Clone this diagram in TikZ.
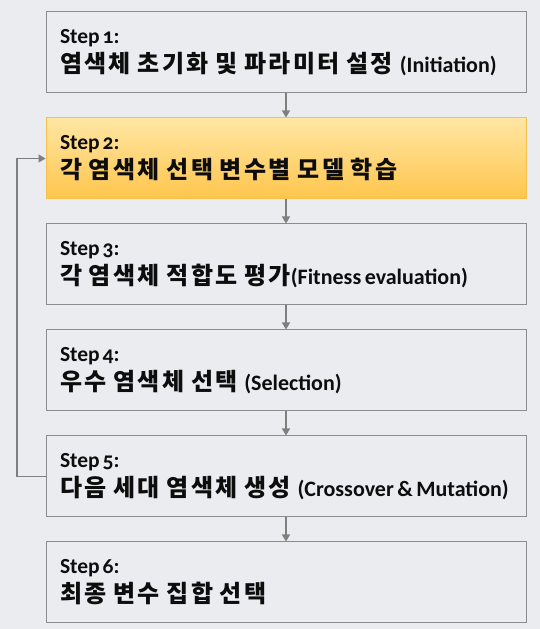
\documentclass[tikz,border=0pt]{standalone}
\usepackage{fontspec}
\newfontfamily\kofont{Noto Sans CJK KR}[LetterSpace=10,WordSpace=0.85]
\newfontfamily\enfont{Carlito}[Numbers=OldStyle,WordSpace=0.7]
\usetikzlibrary{positioning,arrows.meta}
\definecolor{bgcol}{HTML}{EBECF0}
\definecolor{boxline}{HTML}{8C8C8C}
\definecolor{flowcol}{HTML}{7F7F7F}
\definecolor{hltop}{HTML}{FFE6A4}
\definecolor{hlbot}{HTML}{FFC54C}
\definecolor{hlline}{HTML}{F3C24E}
\newcommand{\stp}[1]{{\enfont\bfseries\fontsize{21.5}{28}\selectfont Step\hspace{3pt}#1:}}
\newcommand{\eng}[1]{{\enfont\bfseries\fontsize{22}{28}\selectfont #1}}
\begin{document}
\begin{tikzpicture}[x=1pt,y=1pt,
    node distance = 24pt,
    stepbox/.style = {rectangle,draw=boxline,line width=1pt,fill=bgcol,
        minimum width=480pt,minimum height=81pt,text width=452pt,
        inner xsep=14pt,align=flush left,text=black!95,
        font=\kofont\bfseries\fontsize{24}{29}\selectfont},
    hlbox/.style = {stepbox,draw=hlline,top color=hltop,bottom color=hlbot},
    flow/.style = {draw=flowcol,line width=1.2pt,-{Triangle[width=8pt,length=7pt]}}]
    \fill [bgcol] (0,0) rectangle (540,629);
    \useasboundingbox (0,0) rectangle (540,629);
    \node [stepbox] (s1) at (286,576.5) {\stp{1}\\염색체 초기화 및 파라미터 설정 \eng{(Initiation)}};
    \node [hlbox, below=of s1] (s2) {\stp{2}\\각 염색체 선택 변수별 모델 학습};
    \node [stepbox, below=of s2] (s3) {\stp{3}\\각 염색체 적합도 평가\eng{(Fitness evaluation)}};
    \node [stepbox, below=of s3] (s4) {\stp{4}\\우수 염색체 선택 \eng{(Selection)}};
    \node [stepbox, below=of s4] (s5) {\stp{5}\\다음 세대 염색체 생성 \eng{(Crossover \& Mutation)}};
    \node [stepbox, below=of s5] (s6) {\stp{6}\\최종 변수 집합 선택};
    \foreach \a/\b in {s1/s2,s2/s3,s3/s4,s4/s5,s5/s6}
        \draw [flow] (\a) -- (\b);
    % loop back to step 2
    \coordinate (back) at (17,0);
    \draw [flow] (s5.west) -- (back |- s5.west) -- (back |- s2.west) -- (s2.west);
\end{tikzpicture}
\end{document}
